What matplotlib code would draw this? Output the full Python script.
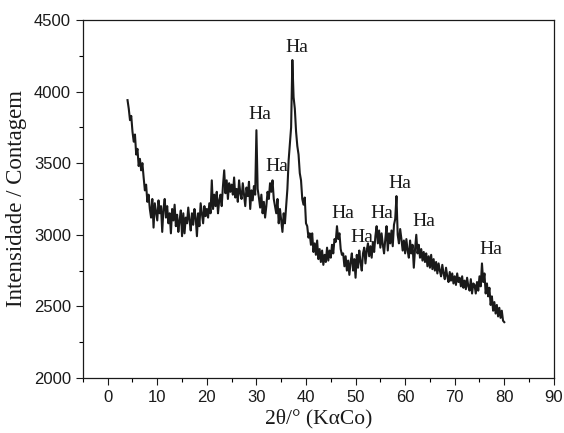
import numpy as np
import matplotlib
matplotlib.use("Agg")
import matplotlib.pyplot as plt

# 2theta start/step of the digitised pattern
two_theta_start = 4.0
two_theta_step = 0.25
intensity = [
    3940, 3880, 3800, 3830,   # 4
    3720, 3650, 3700, 3560,   # 5
    3600, 3480, 3530, 3450,   # 6
    3500, 3400, 3310, 3350,   # 7
    3230, 3280, 3180, 3120,   # 8
    3250, 3050, 3220, 3160,   # 9
    3100, 3240, 3150, 3200,   # 10
    3020, 3180, 3250, 3120,   # 11
    3200, 3080, 3150, 3010,   # 12
    3180, 3100, 3210, 3060,   # 13
    3140, 3020, 3100, 3170,   # 14
    2990, 3150, 3010, 3120,   # 15
    3080, 3190, 3100, 3030,   # 16
    3150, 3070, 3180, 3120,   # 17
    2990, 3150, 3060, 3220,   # 18
    3150, 3080, 3200, 3130,   # 19
    3180, 3120, 3220, 3150,   # 20
    3380, 3180, 3280, 3200,   # 21
    3300, 3150, 3240, 3280,   # 22
    3200, 3340, 3450, 3290,   # 23
    3380, 3250, 3360, 3300,   # 24
    3350, 3280, 3400, 3260,   # 25
    3320, 3230, 3380, 3290,   # 26
    3250, 3360, 3280, 3200,   # 27
    3330, 3270, 3370, 3180,   # 28
    3310, 3240, 3340, 3280,   # 29
    3730, 3320, 3260, 3190,   # 30
    3280, 3150, 3230, 3120,   # 31
    3200, 3300, 3250, 3360,   # 32
    3300, 3380, 3250, 3200,   # 33
    3150, 3250, 3080, 3180,   # 34
    3100, 3020, 3150, 3080,   # 35
    3200, 3320, 3520, 3640,   # 36
    3750, 4220, 3960, 3880,   # 37
    3720, 3620, 3560, 3430,   # 38
    3380, 3250, 3210, 3260,   # 39
    3080, 3060, 2980, 3010,   # 40
    2930, 3010, 2880, 2940,   # 41
    2860, 2960, 2830, 2900,   # 42
    2810, 2890, 2790, 2860,   # 43
    2810, 2910, 2820, 2890,   # 44
    2840, 2930, 2870, 2970,   # 45
    2950, 3060, 2970, 3010,   # 46
    2900, 2860, 2870, 2780,   # 47
    2850, 2750, 2820, 2720,   # 48
    2810, 2870, 2750, 2830,   # 49
    2700, 2860, 2770, 2890,   # 50
    2810, 2750, 2870, 2910,   # 51
    2800, 2890, 2940, 2850,   # 52
    2920, 2840, 2950, 2880,   # 53
    2990, 3060, 2940, 3030,   # 54
    2910, 3010, 2930, 2870,   # 55
    2970, 3060, 2890, 3010,   # 56
    2940, 3030, 2920, 3070,   # 57
    3110, 3270, 3000, 2940,   # 58
    3040, 2970, 2890, 2960,   # 59
    2870, 2970, 2890, 2840,   # 60
    2960, 2870, 2930, 2770,   # 61
    2900, 3000, 2870, 2930,   # 62
    2840, 2900, 2820, 2880,   # 63
    2810, 2870, 2780, 2850,   # 64
    2770, 2860, 2760, 2830,   # 65
    2750, 2810, 2730, 2800,   # 66
    2750, 2710, 2790, 2730,   # 67
    2690, 2770, 2710, 2670,   # 68
    2740, 2680, 2730, 2660,   # 69
    2710, 2650, 2730, 2670,   # 70
    2700, 2640, 2710, 2630,   # 71
    2680, 2620, 2700, 2640,   # 72
    2610, 2690, 2590, 2660,   # 73
    2650, 2590, 2670, 2610,   # 74
    2710, 2640, 2800, 2670,   # 75
    2730, 2590, 2660, 2570,   # 76
    2630, 2510, 2570, 2470,   # 77
    2530, 2450, 2510, 2430,   # 78
    2490, 2420, 2470, 2400,   # 79
    2390,                     # 80
]
two_theta = two_theta_start + two_theta_step * np.arange(len(intensity))

# peak annotations
label_text = ["Ha", "Ha", "Ha", "Ha", "Ha", "Ha", "Ha", "Ha", "Ha"]
label_x = [30.6, 34.2, 38.1, 47.4, 51.2, 55.2, 58.9, 63.7, 77.3]
label_y = [3837, 3480, 4310, 3150, 2980, 3150, 3360, 3090, 2895]

x_ticks = [0, 10, 20, 30, 40, 50, 60, 70, 80, 90]
y_ticks = [2000, 2500, 3000, 3500, 4000, 4500]

fig = plt.figure(figsize=(5.64, 4.33), dpi=100)
ax = fig.add_axes([0.147, 0.127, 0.835, 0.827])
ax.plot(two_theta, intensity, color="#1a1a1a", lw=1.5)

serif = ["Liberation Serif", "DejaVu Serif"]
for t, x, y in zip(label_text, label_x, label_y):
    ax.text(x, y, t, fontsize=14, family=serif, ha="center", va="center", color="#1a1a1a")

ax.set_xlim(-5, 90)
ax.set_ylim(2000, 4500)
ax.set_xticks(x_ticks)
ax.set_yticks(y_ticks)
ax.set_xticks(np.arange(-5, 91, 5), minor=True)
ax.set_yticks(np.arange(2000, 4501, 250), minor=True)
ax.tick_params(which="major", direction="out", length=5, width=0.8,
               labelsize=12, colors="#1a1a1a")
ax.tick_params(which="minor", direction="out", length=3, width=0.8)
for lab in ax.get_xticklabels() + ax.get_yticklabels():
    lab.set_family(["Liberation Sans", "DejaVu Sans"])
for s in ax.spines.values():
    s.set_linewidth(0.9)
    s.set_color("#1a1a1a")

ax.set_xlabel("2θ/° (KαCo)", fontsize=15.5, family=serif, color="#1a1a1a", labelpad=3)
ax.set_ylabel("Intensidade / Contagem", fontsize=16.5, family=serif, color="#1a1a1a", labelpad=5)

fig.savefig("out.png", dpi=100)
